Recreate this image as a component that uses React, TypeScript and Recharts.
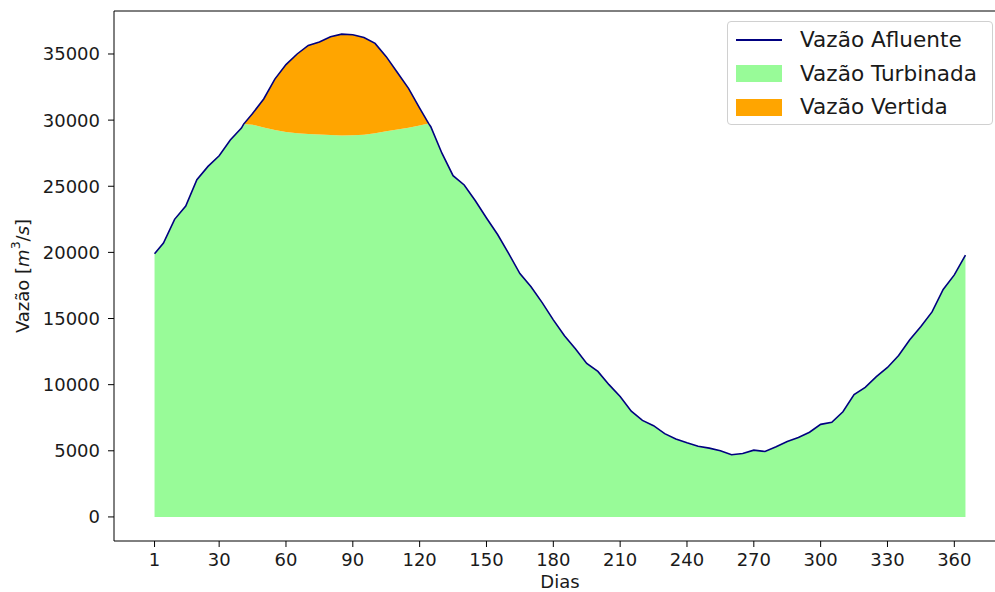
import { ComposedChart, Area, Line, XAxis, YAxis, ReferenceLine, Legend } from 'recharts'

const days = [
  1, 5, 10, 15, 20, 25, 30, 35, 40, 41, 45, 50, 55, 60, 65, 70, 75, 80, 85, 90,
  95, 100, 105, 110, 115, 120, 124, 125, 130, 135, 140, 145, 150, 155, 160, 165, 170, 175, 180,
  185, 190, 195, 200, 205, 210, 215, 220, 225, 230, 235, 240, 245, 250, 255, 260, 265, 270,
  275, 280, 285, 290, 295, 300, 305, 310, 315, 320, 325, 330, 335, 340, 345, 350, 355, 360, 365,
]

// Vazão Afluente (m3/s)
const afluente = [
  19900, 20700, 22500, 23500, 25500, 26500, 27300, 28500, 29400, 29700, 30500, 31600, 33100, 34200, 35000, 35650, 35900, 36300, 36500, 36450,
  36250, 35800, 34800, 33600, 32400, 30900, 29750, 29500, 27500, 25800, 25100, 23900, 22600, 21350, 19900, 18400, 17400, 16200, 14900,
  13700, 12700, 11600, 11000, 10000, 9100, 8000, 7300, 6900, 6300, 5900, 5600, 5350, 5200, 5000, 4700, 4800, 5050,
  4950, 5300, 5700, 6000, 6400, 7000, 7150, 7950, 9250, 9800, 10600, 11300, 12200, 13400, 14400, 15500, 17200, 18300, 19800,
]

// Vazão Turbinada (m3/s) - capped around the peak
const turbinada = [
  19900, 20700, 22500, 23500, 25500, 26500, 27300, 28500, 29400, 29700, 29650, 29450, 29250, 29100, 29000, 28950, 28920, 28880, 28830, 28850,
  28900, 29000, 29150, 29300, 29420, 29600, 29750, 29500, 27500, 25800, 25100, 23900, 22600, 21350, 19900, 18400, 17400, 16200, 14900,
  13700, 12700, 11600, 11000, 10000, 9100, 8000, 7300, 6900, 6300, 5900, 5600, 5350, 5200, 5000, 4700, 4800, 5050,
  4950, 5300, 5700, 6000, 6400, 7000, 7150, 7950, 9250, 9800, 10600, 11300, 12200, 13400, 14400, 15500, 17200, 18300, 19800,
]

const xTicks = [1, 30, 60, 90, 120, 150, 180, 210, 240, 270, 300, 330, 360]
const yTicks = [0, 5000, 10000, 15000, 20000, 25000, 30000, 35000]

const Y_MIN = -1820
const Y_MAX = 38250

const GREEN = '#98fb98'
const ORANGE = '#ffa500'
const NAVY = '#000080'
const TEXT = '#1a1a1a'
const FONT = '"DejaVu Sans", sans-serif'

// vertida is what goes over the turbines
const data = days.map((d, i) => ({
  day: d,
  aflu: afluente[i],
  turb: turbinada[i],
  vert: afluente[i] - turbinada[i],
}))

const legendItems = [
  { label: 'Vazão Afluente', kind: 'line', color: NAVY },
  { label: 'Vazão Turbinada', kind: 'patch', color: GREEN },
  { label: 'Vazão Vertida', kind: 'patch', color: ORANGE },
]

function LegendBox() {
  return (
    <div style={{
      width: 266, height: 104, border: '1px solid #d0d0d0', borderRadius: 4, background: 'rgba(255,255,255,0.8)',
      fontFamily: FONT, fontSize: 21.6, color: TEXT, position: 'relative', boxSizing: 'border-box',
    }}>
      {legendItems.map((item, i) => (
        <div key={item.label} style={{ position: 'absolute', left: 8, top: 18 + i * 33.5 - 13, height: 26, display: 'flex', alignItems: 'center' }}>
          <div style={{ width: 46, display: 'flex', alignItems: 'center' }}>
            {item.kind === 'line'
              ? <div style={{ width: 46, height: 1.6, background: item.color }} />
              : <div style={{ width: 46, height: 17, background: item.color }} />}
          </div>
          <span style={{ marginLeft: 18, whiteSpace: 'nowrap', lineHeight: '26px' }}>{item.label}</span>
        </div>
      ))}
    </div>
  )
}

function YLabel(props: any) {
  const vb = props.viewBox || { x: 0, y: 11, width: 114, height: 530 }
  const cx = 22
  const cy = vb.y + vb.height / 2
  return (
    <text x={cx} y={cy} transform={`rotate(-90, ${cx}, ${cy})`} textAnchor="middle" dominantBaseline="central"
      fontFamily={FONT} fontSize={18} fill={TEXT}>
      Vazão [<tspan fontStyle="italic">m</tspan><tspan dy={-7} fontSize={12.5}>3</tspan><tspan dy={7}>/</tspan><tspan fontStyle="italic">s</tspan>]
    </text>
  )
}

export default function App() {
  return (
    <div style={{ position: 'absolute', left: 0, top: 0, width: 995, height: 592, overflow: 'hidden', background: '#fff' }}>
      <ComposedChart width={1010} height={592} data={data} margin={{ top: 11, right: 4, bottom: 0, left: 0 }}>
        <XAxis
          dataKey="day"
          type="number"
          domain={[-17.2, 383.2]}
          ticks={xTicks}
          interval={0}
          height={51}
          tickSize={6}
          tickMargin={6}
          stroke="#000"
          tick={{ fill: TEXT, fontSize: 18, fontFamily: FONT }}
          label={{ value: 'Dias', position: 'insideBottom', offset: 4, fill: TEXT, fontSize: 18, fontFamily: FONT }}
        />
        <YAxis
          type="number"
          domain={[Y_MIN, Y_MAX]}
          ticks={yTicks}
          interval={0}
          width={114}
          tickSize={6}
          tickMargin={8}
          stroke="#000"
          tick={{ fill: TEXT, fontSize: 18, fontFamily: FONT }}
          label={{ content: (p: any) => <YLabel {...p} /> }}
        />
        <ReferenceLine y={Y_MAX} stroke="#000" strokeWidth={1} />
        <Area type="linear" dataKey="turb" stackId="q" stroke="none" fill={GREEN} fillOpacity={1} isAnimationActive={false} />
        <Area type="linear" dataKey="vert" stackId="q" stroke="none" fill={ORANGE} fillOpacity={1} isAnimationActive={false} />
        <Line type="linear" dataKey="aflu" stroke={NAVY} strokeWidth={1.6} dot={false} activeDot={false} isAnimationActive={false} />
        <Legend
          layout="horizontal"
          verticalAlign="middle"
          align="center"
          wrapperStyle={{ top: 21, left: 727, width: 268 }}
          content={() => <LegendBox />}
        />
      </ComposedChart>
    </div>
  )
}
